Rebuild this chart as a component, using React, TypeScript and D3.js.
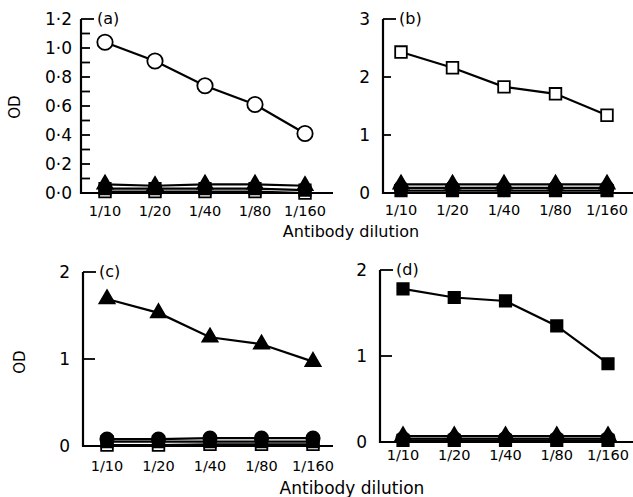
import * as d3 from 'd3';

// antibody dilutions on the x axis
const dilutions = ['1/10', '1/20', '1/40', '1/80', '1/160'];

// panel (a)
const aOpenCircle = [1.04, 0.91, 0.74, 0.61, 0.41];
const aTriangle = [0.06, 0.05, 0.06, 0.06, 0.05];
const aFilledSquare = [0.03, 0.03, 0.03, 0.03, 0.02];
const aOpenSquare = [0.01, 0.01, 0.01, 0.01, 0.0];
const aTicks = [0, 0.2, 0.4, 0.6, 0.8, 1.0, 1.2];
const aTickLabels = ['0·0', '0·2', '0·4', '0·6', '0·8', '1·0', '1·2'];
const aMinorTicks = [0.1, 0.3, 0.5, 0.7, 0.9, 1.1];

// panel (b)
const bOpenSquare = [2.43, 2.16, 1.83, 1.71, 1.34];
const bTriangle = [0.15, 0.15, 0.15, 0.15, 0.15];
const bFilledCircle = [0.09, 0.09, 0.09, 0.09, 0.09];
const bFilledSquare = [0.04, 0.04, 0.04, 0.04, 0.04];
const bTicks = [0, 1, 2, 3];
const bTickLabels = ['0', '1', '2', '3'];

// panel (c)
const cTriangle = [1.69, 1.53, 1.25, 1.17, 0.97];
const cFilledCircle = [0.08, 0.08, 0.09, 0.09, 0.09];
const cFilledSquare = [0.05, 0.05, 0.05, 0.05, 0.05];
const cOpenSquare = [0.01, 0.01, 0.02, 0.02, 0.02];
const cTicks = [0, 1, 2];
const cTickLabels = ['0', '1', '2'];

// panel (d)
const dFilledSquare = [1.78, 1.68, 1.64, 1.35, 0.91];
const dTriangle = [0.07, 0.07, 0.07, 0.07, 0.07];
const dFilledCircle = [0.04, 0.04, 0.04, 0.04, 0.04];
const dLowSquare = [0.02, 0.02, 0.02, 0.02, 0.02];
const dTicks = [0, 1, 2];
const dTickLabels = ['0', '1', '2'];

type Marker = 'openCircle' | 'openSquare' | 'triangle' | 'filledSquare' | 'filledCircle';
type Series = { values: number[]; marker: Marker };

const FONT = 'DejaVu Sans, sans-serif';

const symbolPath = (m: Marker) => {
  if (m === 'openCircle' || m === 'filledCircle') return d3.symbol().type(d3.symbolCircle).size(m === 'openCircle' ? 185 : 140)()!;
  if (m === 'triangle') return d3.symbol().type(d3.symbolTriangle).size(100)()!;
  return d3.symbol().type(d3.symbolSquare).size(m === 'openSquare' ? 135 : 130)()!;
};

type PanelProps = {
  axisX: number;
  y0: number;
  yTop: number;
  yMax: number;
  xRange: [number, number];
  xEnd: number;
  ticks: number[];
  tickLabels: string[];
  minorTicks?: number[];
  tickLen: number;
  labelGap: number;
  xLabelY: number;
  name: string;
  series: Series[];
};

const Panel = (p: PanelProps) => {
  const x = d3.scalePoint<string>().domain(dilutions).range(p.xRange);
  const y = d3.scaleLinear().domain([0, p.yMax]).range([p.y0, p.yTop]);
  const line = d3.line<number>().x((_, i) => x(dilutions[i])!).y(v => y(v));
  return (
    <g>
      {/* axes */}
      <path d={`M${p.axisX},${y(p.yMax)}V${p.y0}H${p.xEnd}`} fill="none" stroke="#000" strokeWidth={2.2} />
      {p.ticks.map((t, i) => (
        <g key={t}>
          <line x1={p.axisX} x2={p.axisX + (i === p.ticks.length - 1 ? 13 : p.tickLen)} y1={y(t)} y2={y(t)} stroke="#000" strokeWidth={1.8} />
          <text x={p.axisX - p.labelGap} y={y(t)} dy="0.36em" textAnchor="end" fontSize={17} fontFamily={FONT}>{p.tickLabels[i]}</text>
        </g>
      ))}
      {(p.minorTicks || []).map(t => (
        <line key={t} x1={p.axisX} x2={p.axisX + p.tickLen} y1={y(t)} y2={y(t)} stroke="#000" strokeWidth={1.8} />
      ))}
      <text x={p.axisX + 16} y={y(p.yMax)} dy="0.3em" fontSize={16} fontFamily={FONT}>{`(${p.name})`}</text>
      {dilutions.map(d => (
        <text key={d} x={x(d)} y={p.xLabelY} dy="0.36em" textAnchor="middle" fontSize={14.5} fontFamily={FONT}>{d}</text>
      ))}
      {/* series */}
      {p.series.map((s, i) => (
        <path key={'l' + i} d={line(s.values)!} fill="none" stroke="#000" strokeWidth={2.2} />
      ))}
      {p.series.map((s, i) =>
        s.values.map((v, j) => (
          <path
            key={`m${i}-${j}`}
            d={symbolPath(s.marker)}
            transform={`translate(${x(dilutions[j])},${y(v)})`}
            fill={s.marker === 'openCircle' || s.marker === 'openSquare' ? '#fff' : '#000'}
            stroke="#000"
            strokeWidth={1.8}
          />
        ))
      )}
    </g>
  );
};

export default function App() {
  return (
    <svg width={633} height={497} style={{ position: 'absolute', left: 0, top: 0, background: '#fff' }}>
      <Panel
        axisX={81} y0={193} yTop={19} yMax={1.2} xRange={[105, 305]} xEnd={333}
        ticks={aTicks} tickLabels={aTickLabels} minorTicks={aMinorTicks} tickLen={9} labelGap={9}
        xLabelY={211} name="a"
        series={[
          { values: aOpenSquare, marker: 'openSquare' },
          { values: aFilledSquare, marker: 'filledSquare' },
          { values: aTriangle, marker: 'triangle' },
          { values: aOpenCircle, marker: 'openCircle' },
        ]}
      />
      <Panel
        axisX={383} y0={193} yTop={19} yMax={3} xRange={[401, 607]} xEnd={633}
        ticks={bTicks} tickLabels={bTickLabels} tickLen={8} labelGap={13}
        xLabelY={210} name="b"
        series={[
          { values: bFilledSquare, marker: 'filledSquare' },
          { values: bTriangle, marker: 'triangle' },
          { values: bFilledCircle, marker: 'filledCircle' },
          { values: bOpenSquare, marker: 'openSquare' },
        ]}
      />
      <Panel
        axisX={83} y0={446} yTop={272} yMax={2} xRange={[107, 313]} xEnd={333}
        ticks={cTicks} tickLabels={cTickLabels} tickLen={12} labelGap={13}
        xLabelY={466} name="c"
        series={[
          { values: cOpenSquare, marker: 'openSquare' },
          { values: cFilledSquare, marker: 'filledSquare' },
          { values: cFilledCircle, marker: 'filledCircle' },
          { values: cTriangle, marker: 'triangle' },
        ]}
      />
      <Panel
        axisX={380} y0={442} yTop={270} yMax={2} xRange={[403, 608]} xEnd={633}
        ticks={dTicks} tickLabels={dTickLabels} tickLen={12} labelGap={13}
        xLabelY={455} name="d"
        series={[
          { values: dLowSquare, marker: 'filledSquare' },
          { values: dTriangle, marker: 'triangle' },
          { values: dFilledCircle, marker: 'filledCircle' },
          { values: dFilledSquare, marker: 'filledSquare' },
        ]}
      />
      <text x={15} y={107} transform="rotate(-90 15 107)" dy="0.36em" textAnchor="middle" fontSize={15} fontFamily={FONT}>OD</text>
      <text x={20} y={362} transform="rotate(-90 20 362)" dy="0.36em" textAnchor="middle" fontSize={15} fontFamily={FONT}>OD</text>
      <text x={351} y={231} dy="0.36em" textAnchor="middle" fontSize={16} fontFamily={FONT}>Antibody dilution</text>
      <text x={352} y={488} dy="0.36em" textAnchor="middle" fontSize={17} fontFamily={FONT}>Antibody dilution</text>
    </svg>
  );
}
